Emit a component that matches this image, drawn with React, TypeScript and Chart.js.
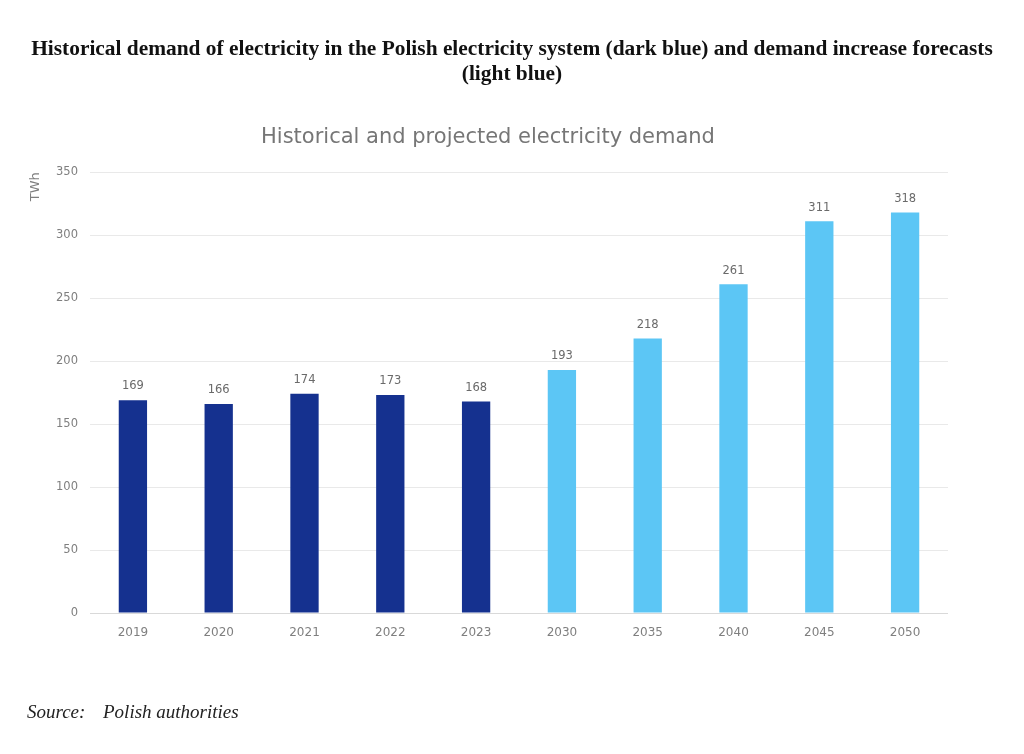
import React, { useEffect, useRef } from "react";
import { Chart, registerables } from "chart.js";

Chart.register(...registerables);

const years = ["2019", "2020", "2021", "2022", "2023", "2030", "2035", "2040", "2045", "2050"];
const demandTWh = [169, 166, 174, 173, 168, 193, 218, 261, 311, 318];
const isForecast = [false, false, false, false, false, true, true, true, true, true];
const yTicks = [0, 50, 100, 150, 200, 250, 300, 350];

const HISTORY_COLOR = "#15318f";
const FORECAST_COLOR = "#5cc6f5";
const GREY_TEXT = "#7f7f7f";
const SANS = "'DejaVu Sans', 'Open Sans', sans-serif";

// Writes each bar's value just above its top
const valueLabels = {
  id: "valueLabels",
  afterDatasetsDraw(chart: any) {
    const { ctx } = chart;
    const meta = chart.getDatasetMeta(0);
    ctx.save();
    ctx.font = `11.5px ${SANS}`;
    ctx.fillStyle = "#6a6a6a";
    ctx.textAlign = "center";
    ctx.textBaseline = "bottom";
    meta.data.forEach((bar: any, i: number) => {
      ctx.fillText(String(demandTWh[i]), bar.x, bar.y - 8);
    });
    ctx.restore();
  },
};

export default function App() {
  const canvasRef = useRef<HTMLCanvasElement | null>(null);

  useEffect(() => {
    if (!canvasRef.current) return;
    const chart = new Chart(canvasRef.current, {
      type: "bar",
      data: {
        labels: years,
        datasets: [
          {
            data: demandTWh,
            backgroundColor: isForecast.map((f) => (f ? FORECAST_COLOR : HISTORY_COLOR)),
            categoryPercentage: 1,
            barPercentage: 0.33,
          },
        ],
      },
      options: {
        responsive: false,
        animation: false,
        layout: { padding: { left: 28, right: 76, top: 125, bottom: 101 } },
        plugins: {
          legend: { display: false },
          tooltip: { enabled: false },
          title: {
            display: true,
            text: "Historical and projected electricity demand",
            color: "#767676",
            font: { family: SANS, size: 21, weight: "normal" },
            padding: { top: 0, bottom: 22 },
          },
        },
        scales: {
          x: {
            grid: { display: false, drawTicks: false },
            border: { display: false },
            ticks: { color: GREY_TEXT, font: { family: SANS, size: 12 }, padding: 13 },
            afterFit: (scale: any) => {
              scale.height = 40;
            },
          },
          y: {
            min: 0,
            max: 350,
            afterBuildTicks: (scale: any) => {
              scale.ticks = yTicks.map((v) => ({ value: v }));
            },
            grid: {
              color: (ctx: any) => (ctx.tick && ctx.tick.value === 0 ? "#d9d9d9" : "#e9e9e9"),
              drawTicks: false,
            },
            border: { display: false },
            ticks: { color: GREY_TEXT, font: { family: SANS, size: 11.5 }, padding: 12 },
            title: {
              display: true,
              text: "TWh",
              align: "end",
              color: GREY_TEXT,
              font: { family: SANS, size: 13 },
              padding: 0,
            },
            afterFit: (scale: any) => {
              scale.width = 62;
            },
          },
        },
      },
      plugins: [valueLabels],
    });
    return () => chart.destroy();
  }, []);

  return (
    <div
      style={{
        position: "absolute",
        left: 0,
        top: 0,
        width: 1024,
        height: 754,
        background: "#ffffff",
        overflow: "hidden",
      }}
    >
      <canvas ref={canvasRef} width={1024} height={754} style={{ position: "absolute", left: 0, top: 0 }} />
      <div
        style={{
          position: "absolute",
          left: 0,
          top: 36,
          width: 1024,
          textAlign: "center",
          fontFamily: "'Liberation Serif', 'DejaVu Serif', serif",
          fontWeight: "bold",
          fontSize: 21.4,
          lineHeight: "25px",
          color: "#111111",
        }}
      >
        Historical demand of electricity in the Polish electricity system (dark blue) and demand increase forecasts
        <br />
        (light blue)
      </div>
      <div
        style={{
          position: "absolute",
          left: 27,
          top: 700,
          fontFamily: "'Liberation Serif', 'DejaVu Serif', serif",
          fontStyle: "italic",
          fontSize: 19,
          lineHeight: "24px",
          color: "#222222",
          whiteSpace: "pre",
        }}
      >
        <span style={{ display: "inline-block", width: 76 }}>Source:</span>Polish authorities
      </div>
    </div>
  );
}
